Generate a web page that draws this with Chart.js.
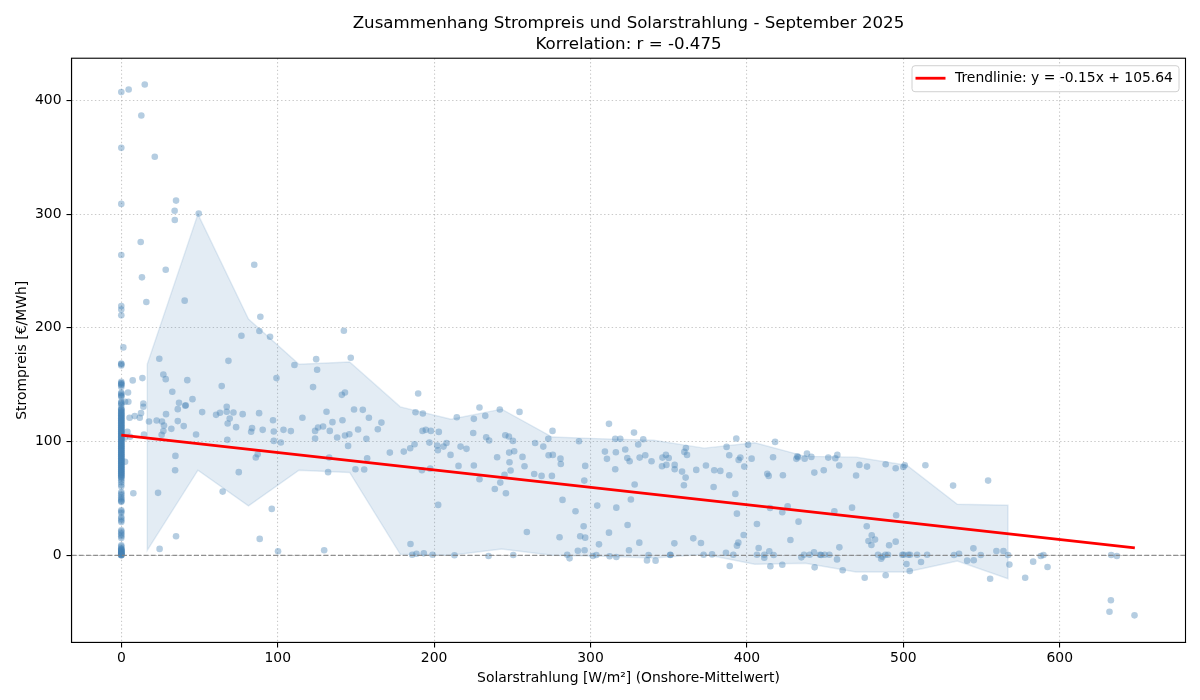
<!DOCTYPE html>
<html>
<head>
<meta charset="utf-8">
<style>
    body { margin: 0; background: white; }
    canvas { display: block; }
</style>
<script src="https://cdn.jsdelivr.net/npm/chart.js"></script>
</head>
<body>
<canvas id="myChart" width="1200" height="700"></canvas>

<script>
const titleLines = ['Zusammenhang Strompreis und Solarstrahlung - September 2025', 'Korrelation: r = -0.475']
const xLabel = 'Solarstrahlung [W/m²] (Onshore-Mittelwert)'
const yLabel = 'Strompreis [€/MWh]'
const trendLabel = 'Trendlinie: y = -0.15x + 105.64'

const xTicks = [0, 100, 200, 300, 400, 500, 600]
const yTicks = [0, 100, 200, 300, 400]

// hours without any sun, all sitting at 0 W/m²
const nightPrices = [
    407.3, 358.3, 309, 264, 219.2, 216.2, 211, 168.7, 168.1, 167,
    152.6, 151.5, 151, 150.2, 149.6, 148, 142.9, 142.3, 141, 140, 139.4,
    135, 134, 133.5, 132, 129.2, 128.4, 127.9, 127.1, 126.3, 125.8, 125, 124.2, 123.7, 123.1,
    122.4, 121.9, 121.2, 120.6, 120, 119.3, 118.8, 118.1, 117.6, 116.9, 116.2, 115.8, 115.1, 114.4, 113.9,
    113.2, 112.7, 112.1, 111.4, 110.9, 110.2, 109.7, 109.1, 108.6, 108, 107.3, 106.9, 106.2, 105.7, 105.1,
    104.6, 103.9, 103.4, 102.8, 102.1, 101.7, 101, 100.4, 99.9, 99.2, 98.8, 98.1, 97.5, 97, 96.4,
    95.9, 95.2, 94.7, 94.1, 93.6, 92.9, 92.3, 91.8, 91.2, 90.7, 90, 89.5, 88.9, 88.3, 87.8,
    87.2, 86.6, 86.1, 85.4, 84.9, 84.3, 83.8, 83.1, 82.6, 82, 81.4, 80.9, 80.2, 79.7, 79.1,
    78.6, 77.9, 77.4, 76.8, 76.2, 75.7, 75, 74.5, 73.9, 73.3, 72.8, 72.1, 71.6, 71, 70.4,
    69.8, 69.1, 68.6, 67.6, 65.9, 64.3, 62.1, 60.4, 55.7, 54.2, 52.9, 51.1, 49.8, 48.5, 47.6, 47,
    39.6, 38.4, 37.1, 33.7, 32.2, 30.6, 29.3, 22, 20.8, 19.4, 18.1, 16.7, 15.2,
    8.8, 7.6, 6.1, 5.4, 5, 4.6, 4.1, 3.7, 3.3, 3, 2.6, 2.3, 1.9, 1.6, 1.2, 0.9, 0.5, 0.2, 0, 0
]

// hours with measured radiation
const solarX = [
    4.7, 15, 12.8, 21.4, 35, 34.1, 49.5, 34.2, 12.4, 85, 28.4, 13.2, 40.5, 16, 88.9, 76.8, 88.3, 95.1, 142.3, 1.3,
    24.3, 68.5, 124.6, 146.7, 110.7, 125.2, 26.9, 28.4, 42.2, 13.5, 7.3, 99.2, 64.2, 122.6, 32.6, 4.3, 141, 143,
    45.5, 36.9, 41.2, 40.9, 36.1, 14.1, 14.1, 2.4, 4.5, 51.7, 28.6, 12.6, 8.6, 5.3, 11.8, 60.6, 63.1, 67.4, 67.4,
    71.7, 77.6, 88.1, 69.3, 68, 73.4, 83, 83.6, 90.4, 97, 97.5, 103.7, 108.4, 97.5, 102, 115.8, 131.2, 135, 141.4,
    125.8, 129, 123.9, 123.9, 133.3, 138, 143, 145.8, 148.8, 154.4, 151.4, 145, 158.3, 156.7, 17.7, 22.6, 26, 27.3,
    26.9, 25.8, 32, 36.1, 39.9, 47.8, 14.5, 3.9, 5.6, 2.4, 67.8, 34.6, 34.4, 75.1, 86, 87.2, 132.9, 132.2, 149.7,
    155.3, 157.2, 23.5, 7.7, 64.8, 96.2, 35, 88.5, 24.5, 100.2, 129.7, 2.4,
    189.8, 188.1, 192.8, 166.3, 164, 192.6, 194.7, 197.9, 203, 197, 187.5, 184.7, 180.6, 171.7, 202, 202.4, 206,
    207.9, 210.5, 216.9, 220.7, 214.5, 225.4, 229, 232.7, 242, 254.6, 225, 233.3, 235.2, 245.5, 247.8, 250.4, 248,
    251.2, 240.3, 248.2, 248.9, 256.5, 257.8, 215.6, 225.4, 192.2, 197.5, 229, 245, 242.3, 238.8, 245.9, 202.6,
    264, 268.7, 275.3, 264.6, 269.8, 273, 275.7, 273.2, 275.9, 280.8, 281, 292.6, 296.6, 296, 282.1, 290.4, 295.6,
    259.3, 280.2, 293.4, 296.6, 291.9, 296.2, 305.4, 311.8, 304.3, 316.5, 325.8, 328.2, 323.7, 331.2, 324.6, 311.8,
    315.8, 319, 327.8, 333.7, 330.5, 309.2, 316.2, 322.2, 310.5, 323.5, 325, 315.8, 331.4, 335, 339, 346, 348.2, 350,
    345.7, 348.5, 184.9, 186, 188.7, 193.4, 199, 213, 234.8, 250.6, 285.1, 286.6, 301.5, 303.7, 312.2, 316.5, 336.1,
    341.6, 337.1, 351,
    393.2, 418, 400.7, 387, 361, 360, 361.7, 388.7, 395.8, 394.7, 403, 416.7, 353.8, 353.8, 358.5, 360.8, 359.7,
    367.6, 373.8, 379.1, 383, 388.7, 378.7, 398.3, 413, 413.9, 423, 392.6, 393.6, 406.4, 397.9, 394.5, 393.6, 353.6,
    365.7, 370.6, 414.8, 422.6, 426, 433, 427.8, 407.5, 414.3, 431.6, 432.2, 432.7, 436.9, 438.4, 441.2, 443.1, 449.1,
    452, 456.5, 457.8, 459, 469.8, 471.9, 476.8, 488.7, 495.1, 500, 500.9, 514.1, 531.8, 455.9, 467.2, 476.6, 479.8,
    477.7, 479.6, 481.9, 490.9, 495.1, 495.4, 459.1,
    351, 372.3, 377.7, 386.6, 391.3, 406.4, 411.1, 411.1, 417.1, 434.8, 436.5, 440.1, 442.9, 446.7, 447.4, 449.7,
    452.7, 457.6, 483.8, 485.8, 486.6, 488.5, 490.2, 499.4, 500.3, 503.2, 504.3, 508.8, 515.2, 532.4, 535.6, 540.8,
    389, 415, 422.6, 443.3, 461.2, 475.3, 488.7, 502, 504.1, 511.3,
    554.2, 544.8, 549.5, 559.5, 564, 567, 567.8, 545, 555.5, 577.9, 583, 587.9, 589.6, 592.2, 632.9, 636.5, 632.7,
    631.8, 647.8
]
const priceY = [
    409.6, 414, 386.7, 350.4, 311.9, 303, 300.5, 294.9, 275.5, 255.5, 251.1, 244.4, 223.9, 222.7, 209.8, 193, 197.2, 192.2, 197.5, 182.8,
    172.8, 171, 172.5, 173.7, 167.3, 163.1, 159, 154.9, 154, 155.8, 153.8, 155.8, 148.8, 147.9, 143.8, 143.2, 141.1, 143.2,
    137.3, 134.1, 132, 131.5, 128.5, 133.5, 130.6, 135, 135, 125.9, 124.1, 125, 122.4, 120.9, 120.9, 123.5, 125.3, 130.6, 126.2,
    125.6, 124.1, 125, 120.3, 115.9, 112.7, 108.6, 111.8, 110.3, 118.8, 108.9, 110.3, 109.2, 100.6, 99.2, 120.9, 126.2, 117.1, 118.8,
    112.4, 113.3, 109.4, 102.7, 109.4, 103.6, 105.3, 106.5, 128.2, 127.9, 110.6, 96.2, 120.9, 102.4, 117.7, 118.5, 117.7, 114.1,
    109.2, 105.9, 111.2, 118, 113.6, 106.2, 106.2, 108.6, 104.2, 103.6, 101.5, 87.4, 74.8, 73.1, 86, 88.9, 86, 73.1, 75.7,
    75.4, 85.4, 54.9, 54.6, 56, 40.8, 16.7, 14.4, 5.6, 3.5, 4.4, 82.2,
    142.3, 125.8, 124.7, 116.7, 110.9, 109.4, 110.3, 109.4, 108.5, 99.1, 97.7, 94.1, 91.2, 90.3, 96.5, 92.4, 95.6,
    98.8, 88.3, 95.6, 93.6, 121.4, 120, 129.9, 122.6, 128.2, 126.1, 107.6, 103.8, 100.9, 105.6, 104.4, 100.6, 90.3,
    91.5, 86.2, 81.8, 74.5, 86.5, 78.3, 78.6, 78.9, 74.8, 76.2, 66.9, 70.7, 63.9, 58.3, 54.5, 44.3,
    71.5, 69.8, 69.8, 98.8, 95.6, 102.4, 109.4, 88, 88.3, 85, 80.3, 100.3, 78.6, 65.7, 48.7, 38.7, 25.5,
    20.5, 15.8, 16.7, 15.5, 4, 4.4, 9.6, 19.9, 43.7, 41.9, 49, 62.2, 26.7, 11.1, 4.4, 115.6,
    102.4, 102.4, 107.9, 102.1, 97.4, 91.2, 90.6, 93, 84.8, 85.6, 82.7, 75.7, 85.9, 88, 82.7, 85.9, 88.3, 85.6,
    78.3, 79.5, 9.9, 0.5, 1.4, 1.7, 0.5, 0, -0.6, 0.2, 0.5, -2.7, -0.6, 0.2, -0.9, -1.5, -4.5,
    -4.7, 0.2, 0.2,
    102.7, 99.7, 97.1, 95.3, 94.4, 90.9, 88.3, 88, 85.9, 83.9, 85, 86.2, 79.5, 75.7, 73.6, 68.3, 61.6,
    75.1, 78.9, 74.8, 74.2, 70.4, 60.1, 78, 71.6, 69.8, 70.4, 54, 36.6, 27.5, 17.9, 11.1, 8.5, 10.5,
    14.9, 10.8, 41.6, 37.8, 43.1, 29.6, 13.5, 6.4, 3.5, 84.8, 87.1, 86.2, 85, 89.5, 86.5, 72.7, 74.8,
    85.9, 85.3, 88.3, 78.9, 70.1, 79.5, 78, 80, 76.5, 77.7, 79.2, 79.2, 61.3, 38.7, 41.9, 25.5, 17.6,
    12.6, 9, 13.8, 8.8, 12, 35.2, 7,
    0.5, 0.5, 0.8, 2.3, 0.5, 0.5, 0.5, -2.1, 0.3, -1.8, 0.5, 0.5, 2.6, 0.5, 0.3, 0.5,
    0.5, -3.6, 0.5, -3, -1.2, 0.5, 0.5, 0.5, 0.5, 0.5, 0.5, 0.5, 0.5, 0.3, 1.4, -4.7,
    -9.4, -9.7, -8.3, -10.6, -13.2, -19.7, -17.6, -7.7, -13.8, -5.9,
    65.7, 6.1, 0.3, 3.8, 3.8, 0.3, -8.2, -4.4, -20.6, -19.7, -5.6, -0.6, 0.3, -10.3, 0.3, -0.6, -39.6,
    -49.6, -52.8
]

// binned percentile band
const bandX = [16.6, 49, 81.3, 113.6, 146, 178.4, 210.8, 243.2, 275.5, 307.9, 340.3, 372.7, 405, 437.4, 469.8, 502.2, 534.5, 566.9]
const bandUpper = [168, 300, 207.7, 168, 170, 130.5, 119.7, 128.5, 104, 102.4, 101.2, 94.2, 98.9, 87, 86.3, 79.2, 44.9, 44]
const bandLower = [4.4, 74.8, 43.4, 74.8, 72.8, 0.9, 0, 5.5, 0, -0.9, -2.4, 0.9, -7.9, -7, -14.7, -14.7, -5, -20.6]

const trendX = [0, 648]
const trendY = [105.64, 6.6]

const zeroLineX = [-31.84, 680.4]
const zeroLineY = [0, 0]

const nightPoints = nightPrices.map((v) => ({x: 0, y: v}))
const dayPoints = solarX.map((v, i) => ({x: v, y: priceY[i]}))

// band outline: along the top, back along the bottom, closed at the start
const bandShape = bandX.map((v, i) => ({x: v, y: bandUpper[i]}))
for (let i = bandX.length - 1; i >= 0; i--) {
    bandShape.push({x: bandX[i], y: bandLower[i]})
}
bandShape.push({x: bandX[0], y: bandUpper[0]})

Chart.defaults.font.family = '"DejaVu Sans"'
Chart.defaults.font.size = 13.9
Chart.defaults.color = '#000'

// top and right frame lines plus the legend box inside the plot
const frameAndLegend = {
    id: 'frameAndLegend',
    afterDraw(chart) {
        const ctx = chart.ctx
        const area = chart.chartArea
        ctx.save()
        ctx.strokeStyle = '#000'
        ctx.lineWidth = 1.1
        ctx.strokeRect(area.left, area.top, area.right - area.left, area.bottom - area.top)

        const w = 267
        const h = 26
        const left = area.right - 7 - w
        const top = area.top + 7
        ctx.beginPath()
        ctx.roundRect(left + 0.5, top + 0.5, w, h, 3)
        ctx.fillStyle = 'rgba(255,255,255,0.8)'
        ctx.fill()
        ctx.strokeStyle = '#d0d0d0'
        ctx.lineWidth = 1
        ctx.stroke()

        ctx.beginPath()
        ctx.moveTo(left + 4, top + 13)
        ctx.lineTo(left + 34, top + 13)
        ctx.strokeStyle = 'red'
        ctx.lineWidth = 2.8
        ctx.stroke()

        ctx.fillStyle = '#000'
        ctx.font = '13.9px "DejaVu Sans"'
        ctx.textBaseline = 'middle'
        ctx.fillText(trendLabel, left + 43.5, top + 13)
        ctx.restore()
    }
}

new Chart(document.getElementById('myChart'), {
    type: 'scatter',
    data: {
        datasets: [
            {
                type: 'line',
                data: zeroLineX.map((v, i) => ({x: v, y: zeroLineY[i]})),
                borderColor: 'rgba(128,128,128,0.85)',
                borderWidth: 1.2,
                borderDash: [5, 2.2],
                pointRadius: 0,
                order: 1
            },
            {
                type: 'line',
                data: bandShape,
                borderColor: 'rgba(70,130,180,0.15)',
                backgroundColor: 'rgba(70,130,180,0.15)',
                borderWidth: 1.4,
                fill: 'shape',
                tension: 0,
                pointRadius: 0,
                order: 4
            },
            {
                data: nightPoints.concat(dayPoints),
                backgroundColor: 'rgba(70,130,180,0.4)',
                borderWidth: 0,
                pointRadius: 3.3,
                order: 3
            },
            {
                type: 'line',
                label: trendLabel,
                data: trendX.map((v, i) => ({x: v, y: trendY[i]})),
                borderColor: 'red',
                borderWidth: 2.8,
                pointRadius: 0,
                order: 0
            }
        ]
    },
    plugins: [frameAndLegend],
    options: {
        responsive: false,
        animation: false,
        layout: { padding: { left: 14, right: 14.5, top: 0, bottom: 13 } },
        plugins: {
            legend: { display: false },
            tooltip: { enabled: false },
            title: {
                display: true,
                text: titleLines,
                fullSize: false,
                font: { size: 16.65, weight: 'normal', lineHeight: 1.25 },
                padding: { top: 13, bottom: 3.6 }
            }
        },
        scales: {
            x: {
                type: 'linear',
                min: -31.84,
                max: 680.4,
                afterBuildTicks: (scale) => { scale.ticks = xTicks.map((v) => ({value: v})) },
                afterFit: (scale) => { scale.height = 44.6 },
                border: { color: '#000', width: 1.1, dash: [1.4, 2.4] },
                grid: { color: 'rgba(165,165,165,0.6)', lineWidth: 1.1, tickLength: 5, tickColor: '#000', tickWidth: 1.1, tickBorderDash: [] },
                ticks: { padding: 3, maxRotation: 0, autoSkip: false },
                title: { display: true, text: xLabel, padding: { top: 3, bottom: 0 } }
            },
            y: {
                min: -76.6,
                max: 437.1,
                afterBuildTicks: (scale) => { scale.ticks = yTicks.map((v) => ({value: v})) },
                afterFit: (scale) => { scale.width = 57.5 },
                border: { color: '#000', width: 1.1, dash: [1.4, 2.4] },
                grid: { color: 'rgba(165,165,165,0.6)', lineWidth: 1.1, tickLength: 5, tickColor: '#000', tickWidth: 1.1, tickBorderDash: [] },
                ticks: { padding: 5, autoSkip: false },
                title: { display: true, text: yLabel, padding: { top: 0, bottom: 0 } }
            }
        }
    }
})
</script>
</body>
</html>
